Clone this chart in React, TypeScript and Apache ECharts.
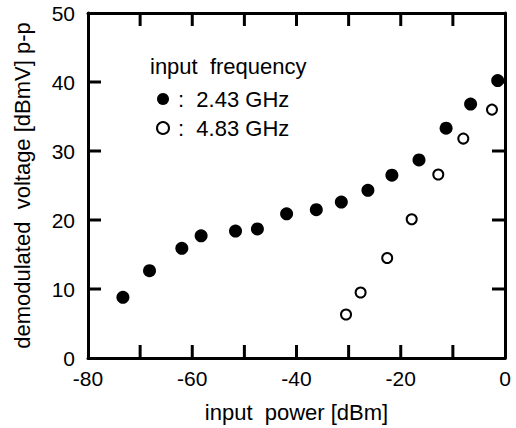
import React, { useEffect, useRef } from "react";
import * as echarts from "echarts";

const powerA = [-73.3, -68.2, -62.0, -58.3, -51.7, -47.5, -41.9, -36.2, -31.4, -26.3, -21.7, -16.5, -11.3, -6.6, -1.4];
const voltA = [8.8, 12.65, 15.9, 17.7, 18.4, 18.7, 20.9, 21.5, 22.6, 24.3, 26.5, 28.7, 33.3, 36.8, 40.2];
const powerB = [-30.5, -27.7, -22.6, -17.9, -12.8, -8.0, -2.5];
const voltB = [6.3, 9.5, 14.5, 20.1, 26.6, 31.8, 36.0];
const xTickVals = [-70, -60, -50, -40, -30, -20, -10];
const yTickVals = [10, 20, 30, 40];
const seriesNames = ["2.43 GHz", "4.83 GHz"];
const legendTitle = "input  frequency";
const xName = "input  power [dBm]";
const yName = "demodulated  voltage [dBmV] p-p";

const X_MIN = -80, X_MAX = 0, Y_MIN = 0, Y_MAX = 50;
const TL = 13;
const TW = 3;
const FONT = "Liberation Sans, Arial, Helvetica, sans-serif";

const tickSeries = (data: number[][], size: number[], offset: number[]) => ({
  type: "scatter",
  silent: true,
  clip: false,
  z: 1,
  symbol: "rect",
  symbolSize: size,
  symbolOffset: offset,
  itemStyle: { color: "#000", opacity: 1 },
  emphasis: { disabled: true },
  data,
});

export default function App() {
  const ref = useRef<HTMLDivElement>(null);
  useEffect(() => {
    const chart = echarts.init(ref.current!, null, { renderer: "svg" });
    const axisLine = { show: true, onZero: false, lineStyle: { color: "#000", width: 3 } };
    chart.setOption({
      animation: false,
      backgroundColor: "#fff",
      textStyle: { fontFamily: FONT },
      grid: { left: 88, right: 11, top: 13, bottom: 70, containLabel: false },
      graphic: [
        {
          type: "text",
          left: 150,
          top: 55,
          style: { text: legendTitle, fontSize: 22, fontFamily: FONT, fill: "#000" },
        },
      ],
      legend: {
        orient: "vertical",
        left: 151,
        top: 83,
        itemGap: 7,
        itemWidth: 20,
        itemHeight: 12,
        icon: "circle",
        formatter: (n: string) => ":  " + n,
        textStyle: { fontSize: 22, fontFamily: FONT, color: "#000" },
        data: seriesNames,
      },
      xAxis: [
        {
          type: "value",
          min: X_MIN,
          max: X_MAX,
          interval: 20,
          position: "bottom",
          name: xName,
          nameLocation: "middle",
          nameGap: 43,
          nameTextStyle: { fontSize: 22, color: "#000", fontFamily: FONT },
          axisLine,
          axisTick: { show: false },
          splitLine: { show: false },
          axisLabel: { fontSize: 21, color: "#000", margin: 10, fontFamily: FONT, showMinLabel: true, showMaxLabel: true },
        },
        {
          type: "value",
          min: X_MIN,
          max: X_MAX,
          interval: 20,
          position: "top",
          axisLine,
          axisTick: { show: false },
          splitLine: { show: false },
          axisLabel: { show: false },
        },
      ],
      yAxis: [
        {
          type: "value",
          min: Y_MIN,
          max: Y_MAX,
          interval: 10,
          position: "left",
          name: yName,
          nameLocation: "middle",
          nameGap: 55,
          nameTextStyle: { fontSize: 22, color: "#000", fontFamily: FONT },
          axisLine,
          axisTick: { show: false },
          splitLine: { show: false },
          axisLabel: { fontSize: 21, color: "#000", margin: 13, fontFamily: FONT, showMinLabel: true, showMaxLabel: true },
        },
        {
          type: "value",
          min: Y_MIN,
          max: Y_MAX,
          interval: 10,
          position: "right",
          axisLine,
          axisTick: { show: false },
          splitLine: { show: false },
          axisLabel: { show: false },
        },
      ],
      series: [
        tickSeries(xTickVals.map((v) => [v, Y_MIN]), [TW, TL], [0, -TL / 2]),
        tickSeries(xTickVals.map((v) => [v, Y_MAX]), [TW, TL], [0, TL / 2]),
        tickSeries(yTickVals.map((v) => [X_MIN, v]), [TL, TW], [TL / 2, 0]),
        tickSeries(yTickVals.map((v) => [X_MAX, v]), [TL, TW], [-TL / 2, 0]),
        {
          name: seriesNames[0],
          type: "scatter",
          symbol: "circle",
          symbolSize: 13,
          z: 3,
          itemStyle: { color: "#000", opacity: 1 },
          data: powerA.map((x, i) => [x, voltA[i]]),
        },
        {
          name: seriesNames[1],
          type: "scatter",
          symbol: "circle",
          symbolSize: 10,
          z: 3,
          itemStyle: { color: "#fff", borderColor: "#000", borderWidth: 2, opacity: 1 },
          data: powerB.map((x, i) => [x, voltB[i]]),
        },
      ],
    });
    return () => chart.dispose();
  }, []);
  return <div ref={ref} style={{ position: "absolute", left: 0, top: 0, width: 516, height: 428 }} />;
}
